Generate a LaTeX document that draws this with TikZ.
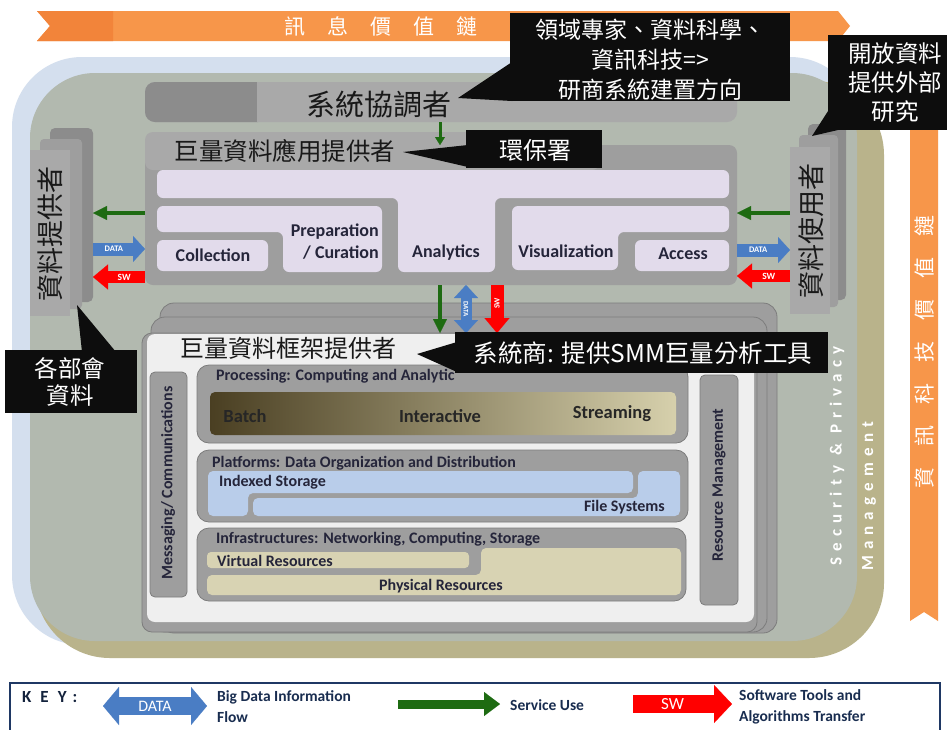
\documentclass[tikz,border=0pt]{standalone}
\usepackage{fontspec}
\setmainfont{Carlito}
\newfontfamily\cjk{Noto Sans CJK TC}
\newfontfamily\spacedfont[LetterSpace=36]{Carlito}
\usetikzlibrary{arrows.meta,fit}
\definecolor{lblue}{HTML}{D4DFEE}
\definecolor{khaki}{HTML}{B9B38B}
\definecolor{ggreen}{HTML}{B2B9AF}
\definecolor{orL}{HTML}{F7964A}
\definecolor{orD}{HTML}{F2843A}
\definecolor{gLight}{HTML}{A9A9A9}
\definecolor{gMid}{HTML}{9E9E9E}
\definecolor{gDark}{HTML}{8C8C8C}
\definecolor{gEdge}{HTML}{7C7C7C}
\definecolor{lav}{HTML}{E2DBEB}
\definecolor{panel}{HTML}{EFEFEF}
\definecolor{sblue}{HTML}{B9CDEA}
\definecolor{lkhaki}{HTML}{D8D3B3}
\definecolor{olD}{HTML}{4A3F22}
\definecolor{olL}{HTML}{D6D0AC}
\definecolor{ablue}{HTML}{4A7DC4}
\definecolor{agreen}{HTML}{1E6B12}
\definecolor{ared}{HTML}{FF0000}
\definecolor{cblack}{HTML}{0D0D0D}
\definecolor{txtdark}{HTML}{25253A}
\definecolor{navy}{HTML}{1F3864}
\begin{document}
\begin{tikzpicture}[x=1pt,y=-1pt,
  fitbox/.style={inner sep=0pt, outer sep=0pt},
  callbox/.style={fitbox, fill=cblack},
  ctext/.style={text=white, align=center, inner sep=0pt},
  applbl/.style={font=\bfseries\fontsize{18}{22}\selectfont, text=txtdark, inner sep=0pt},
  fwlbl/.style={font=\bfseries\fontsize{16}{18}\selectfont, text=txtdark, inner sep=0pt},
  fwbox/.style={fitbox, fill=gMid, draw=gEdge, line width=0.8pt},
  svc/.style={draw=agreen, line width=4.5pt, -{Triangle[length=14pt,width=14pt,line width=0.1pt]}},
  dataar/.style={draw=ablue, line width=13pt, -{Triangle[length=12pt,width=26pt,line width=0.1pt]}},
  swar/.style={draw=ared, line width=12pt, -{Triangle[length=15pt,width=25pt,line width=0.1pt]}},
  datat/.style={text=white, font=\bfseries\fontsize{8.5}{9}\selectfont, inner sep=0pt},
  swt/.style={text=white, font=\bfseries\fontsize{9.5}{10}\selectfont, inner sep=0pt},
  legtxt/.style={font=\bfseries\fontsize{15.5}{21}\selectfont, text=navy!80!black, inner sep=0pt}
]
\useasboundingbox (0,0) rectangle (947,729);
\fill[white] (0,0) rectangle (947,729);

% value-chain fabric backgrounds
\fill[lblue, rounded corners=70pt] (12,57) rectangle (860,645);
\fill[khaki, rounded corners=75pt] (35,80) rectangle (884,658);
\fill[ggreen, rounded corners=65pt] (30,73) rectangle (857,641);

% information value chain banner
\fill[orL] (37,11) -- (838,11) -- (850,26) -- (838,41) -- (37,41) -- (50,26) -- cycle;
\fill[orD] (37,11) -- (113,11) -- (113,41) -- (37,41) -- (50,26) -- cycle;
\node[font=\cjk\fontsize{21}{21}\selectfont, text=white, inner sep=0pt] (ivc) at (381,26)
  {訊\hspace{22pt}息\hspace{22pt}價\hspace{22pt}值\hspace{22pt}鏈};
% IT value chain banner
\fill[orL] (910,100) -- (924,86) -- (938,100) -- (938,621) -- (924,612) -- (910,621) -- cycle;
\node[rotate=90, font=\cjk\fontsize{21}{21}\selectfont, text=white, inner sep=0pt] (itvc) at (924,352)
  {資\hspace{21pt}訊\hspace{21pt}科\hspace{21pt}技\hspace{21pt}價\hspace{21pt}值\hspace{21pt}鏈};

% system orchestrator
\node[fitbox, fit={(145,82) (737,122)}, fill=gLight, rounded corners=10pt] (orch) {};
\fill[gDark, rounded corners=10pt] (145,82) rectangle (268,122);
\fill[gLight] (257,82) rectangle (272,122);
\node[font=\cjk\fontsize{29}{29}\selectfont, text=black!90, inner sep=0pt] (orcht) at (379,104) {系統協調者};

% application provider
\node[fitbox, fit={(145,145) (737,285)}, fill=gMid, rounded corners=8pt] (app) {};
\fill[gLight, rounded corners=8pt] (145,132) rectangle (600,170);
\node[font=\cjk\fontsize{24.5}{25}\selectfont, text=black!90, inner sep=0pt] (appt) at (285,151) {巨量資料應用提供者};
\fill[lav, rounded corners=6pt] (157,170) -- (729,170) -- (729,198) -- (495,198) -- (495,272) -- (398,272) -- (398,198) -- (157,198) -- cycle;
\fill[lav, rounded corners=6pt] (157,206) -- (382,206) -- (382,272) -- (283,272) -- (283,232) -- (157,232) -- cycle;
\fill[lav, rounded corners=6pt] (157,240) rectangle (268,271);
\fill[lav, rounded corners=6pt] (512,206) -- (729,206) -- (729,232) -- (618,232) -- (618,270) -- (512,270) -- cycle;
\fill[lav, rounded corners=6pt] (635,240) rectangle (729,271);
\node[applbl] (coll) at (213,255) {Collection};
\node[applbl, anchor=east, align=right] (prep) at (379,242) {Preparation\\/ Curation};
\node[applbl] (anal) at (446,253) {Analytics};
\node[applbl] (visu) at (566,251) {Visualization};
\node[applbl] (acc) at (683,254) {Access};

% data provider
\node[fitbox, fit={(50,128) (93,302)}, fill=gDark, rounded corners=5pt] (dpback) {};
\fill[gMid, rounded corners=4pt] (40,139) rectangle (82,309);
\node[fitbox, fit={(30,150) (70,316)}, fill=gLight] (dp) {};
\node[rotate=90, font=\cjk\fontsize{27}{27}\selectfont, text=black!90, inner sep=0pt] (dpt) at (50,234) {資料提供者};

% data consumer
\node[fitbox, fit={(808,124) (846,300)}, fill=gDark, rounded corners=5pt] (dcback) {};
\fill[gMid, rounded corners=4pt] (799,135) rectangle (838,307);
\node[fitbox, fit={(790,147) (830,314)}, fill=gLight] (dc) {};
\node[rotate=90, font=\cjk\fontsize{27}{27}\selectfont, text=black!90, inner sep=0pt] (dct) at (811,231) {資料使用者};

% framework provider
\node[fwbox, fit={(160,303) (777,633)}, rounded corners=14pt] (fwback) {};
\node[fwbox, fit={(151,317) (767,632)}, rounded corners=14pt] (fwmid) {};
\node[fwbox, fit={(142,333) (757,632)}, rounded corners=10pt] (fw) {};
\fill[panel, rounded corners=8pt] (147,334) rectangle (754,622);
\node[font=\cjk\fontsize{24}{24}\selectfont, text=black!90, inner sep=0pt] (fwt) at (288,348) {巨量資料框架提供者};

\node[fwbox, fit={(150,372) (187,597)}, rounded corners=5pt] (msg) {};
\node[fwlbl, rotate=90] (msgt) at (168,483) {Messaging/ Communications};
\node[fwbox, fit={(700,375) (738,605)}, rounded corners=5pt] (res) {};
\node[fwlbl, rotate=90] (rest) at (719,485) {Resource Management};

\node[fwbox, fit={(197,365) (688,443)}, rounded corners=12pt] (proc) {};
\node[fwlbl, anchor=west] (proct) at (216,376) {Processing: Computing and Analytic};
\shade[left color=olD, right color=olL, rounded corners=5pt] (210,392) rectangle (676,435);
\node[fwlbl, font=\bfseries\fontsize{18.5}{20}\selectfont, text=black!85] (batch) at (245,416) {Batch};
\node[fwlbl, font=\bfseries\fontsize{18.5}{20}\selectfont, text=black!85] (inter) at (440,416) {Interactive};
\node[fwlbl, font=\bfseries\fontsize{18.5}{20}\selectfont, text=black!85] (stream) at (612,414) {Streaming};

\node[fwbox, fit={(197,450) (688,522)}, rounded corners=12pt] (plat) {};
\node[fwlbl, anchor=west] (platt) at (212,463) {Platforms: Data Organization and Distribution};
\fill[sblue, rounded corners=5pt] (208,471) -- (633,471) -- (633,493) -- (248,493) -- (248,516) -- (208,516) -- cycle;
\fill[sblue, rounded corners=5pt] (638,471) -- (680,471) -- (680,516) -- (253,516) -- (253,498) -- (638,498) -- cycle;
\node[fwlbl, anchor=west] (idx) at (219,482) {Indexed Storage};
\node[fwlbl, anchor=east] (fs) at (665,507) {File Systems};

\node[fwbox, fit={(197,528) (686,601)}, rounded corners=12pt] (infra) {};
\node[fwlbl, anchor=west] (infrat) at (216,539) {Infrastructures: Networking, Computing, Storage};
\fill[lkhaki, rounded corners=4pt] (207,552) rectangle (469,568);
\fill[lkhaki, rounded corners=5pt] (481,548) -- (681,548) -- (681,595) -- (207,595) -- (207,575) -- (481,575) -- cycle;
\node[fwlbl, anchor=west] (virt) at (217,561) {Virtual Resources};
\node[fwlbl] (phys) at (441,586) {Physical Resources};

% fabrics
\node[rotate=90, font=\spacedfont\bfseries\fontsize{17}{17}\selectfont, text=white, inner sep=0pt] (sec) at (837,456) {Security \& Privacy};
\node[rotate=90, font=\spacedfont\bfseries\fontsize{17}{17}\selectfont, text=white, inner sep=0pt] (mgmt) at (869,496) {Management};

% connectors
\draw[svc, line width=3pt, -{Triangle[length=8pt,width=10pt,line width=0.1pt]}] (orch.south -| 440,0) -- (app.north -| 440,0);
\draw[svc] (app.west |- 0,213) -- (dpback.east |- 0,213);
\draw[dataar] (dpback.east |- 0,249) -- (app.west |- 0,249) node[pos=0.4, datat] {DATA};
\draw[swar] (app.west |- 0,277) -- (dpback.east |- 0,277) node[pos=0.4, swt] {SW};
\draw[svc] (dc.west |- 0,213) -- (app.east |- 0,213);
\draw[dataar] (app.east |- 0,250) -- (dc.west |- 0,250) node[pos=0.4, datat] {DATA};
\draw[swar] (dc.west |- 0,276) -- (app.east |- 0,276) node[pos=0.4, swt] {SW};
\draw[svc] (app.south -| 440,0) -- (fw.north -| 440,0);
\draw[dataar, line width=11pt, {Triangle[length=13pt,width=24pt,line width=0.1pt]}-{Triangle[length=13pt,width=24pt,line width=0.1pt]}] (app.south -| 466,0) -- (fw.north -| 466,0) node[midway, rotate=-90, datat, font=\bfseries\fontsize{7}{7}\selectfont] {DATA};
\draw[swar, line width=13pt] (app.south -| 497,0) -- (fw.north -| 497,0) node[pos=0.38, rotate=90, swt, font=\bfseries\fontsize{8}{8}\selectfont] {SW};

% callouts
\node[callbox, fit={(510,13) (790,101)}] (c1) {};
\fill[cblack] (458,98) -- (512,62) -- (512,101) -- cycle;
\node[ctext, font=\cjk\fontsize{23}{30}\selectfont] (c1t) at (650,60) {領域專家、資料科學、\\資訊科技=>\\研商系統建置方向};

\node[callbox, fit={(466,130) (602,168)}] (c2) {};
\fill[cblack] (403,152) -- (468,145) -- (468,167) -- cycle;
\node[ctext, font=\cjk\fontsize{24}{24}\selectfont] (c2t) at (535,150) {環保署};

\node[callbox, fit={(455,332) (828,373)}] (c3) {};
\fill[cblack] (417,354) -- (457,342) -- (457,372) -- cycle;
\node[ctext, font=\cjk\fontsize{24.5}{25}\selectfont] (c3t) at (643,353) {系統商: 提供SMM巨量分析工具};

\node[callbox, fit={(5,350) (137,413)}] (c4) {};
\fill[cblack] (77,305) -- (82,352) -- (116,352) -- cycle;
\node[ctext, font=\cjk\fontsize{23.5}{27}\selectfont] (c4t) at (70,382) {各部會\\資料};

\node[callbox, fit={(828,35) (947,130)}] (c5) {};
\fill[cblack] (812,136) -- (830,108) -- (838,130) -- cycle;
\node[ctext, font=\cjk\fontsize{23.5}{29}\selectfont] (c5t) at (895,83) {開放資料\\提供外部\\研究};

% key
\node[fitbox, fit={(10,683) (940,735)}, draw=navy, line width=2.5pt] (key) {};
\node[font=\bfseries\fontsize{17}{17}\selectfont, text=navy!60!black, anchor=west, inner sep=0pt] (keyl) at (22,697) {K\hspace{9pt}E\hspace{9pt}Y\hspace{6pt}:};
\coordinate (kd1) at (103,706);
\coordinate (kd2) at (207,706);
\draw[draw=ablue, line width=18pt, {Triangle[length=16pt,width=38pt,line width=0.1pt]}-{Triangle[length=16pt,width=38pt,line width=0.1pt]}] (kd1) -- (kd2) node[midway, text=white, font=\fontsize{16}{16}\selectfont, inner sep=0pt] {DATA};
\node[legtxt, anchor=west, align=left] (kdt) at (217,707) {Big Data Information\\Flow};
\coordinate (kg1) at (398,704);
\coordinate (kg2) at (500,704);
\draw[draw=agreen, line width=9pt, -{Triangle[length=16pt,width=24pt,line width=0.1pt]}] (kg1) -- (kg2);
\node[legtxt, anchor=west] (kgt) at (510,705) {Service Use};
\coordinate (ks1) at (633,704);
\coordinate (ks2) at (732,704);
\draw[draw=ared, line width=18pt, -{Triangle[length=18pt,width=38pt,line width=0.1pt]}] (ks1) -- (ks2) node[pos=0.4, text=white, font=\fontsize{17}{17}\selectfont, inner sep=0pt] {SW};
\node[legtxt, anchor=west, align=left] (kst) at (739,707) {Software Tools and\\Algorithms Transfer};
\end{tikzpicture}
\end{document}
